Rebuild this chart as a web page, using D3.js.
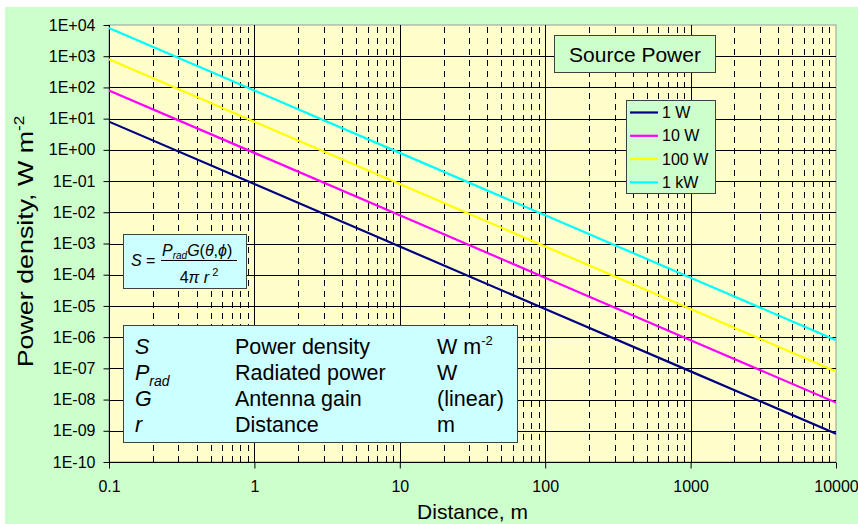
<!DOCTYPE html>
<html>
<head>
<meta charset="utf-8">
<script src="https://cdn.jsdelivr.net/npm/d3@7"></script>
<style>
  html, body { margin: 0; padding: 0; background: #ffffff; }
  svg { display: block; }
  text { font-family: "Liberation Sans", Arial, sans-serif; }
</style>
</head>
<body>
<svg id="chart" width="858" height="524"></svg>
<script>
// ---------------- data ----------------
const distances = [0.1, 1, 10, 100, 1000, 10000];
const seriesNames = ["1 W", "10 W", "100 W", "1 kW"];
const series1W   = [8, 0.08, 8e-4, 8e-6, 8e-8, 8e-10];
const series10W  = [80, 0.8, 8e-3, 8e-5, 8e-7, 8e-9];
const series100W = [800, 8, 8e-2, 8e-4, 8e-6, 8e-8];
const series1kW  = [8000, 80, 0.8, 8e-3, 8e-5, 8e-7];
const seriesColors = ["#000080", "#ff00ff", "#ffff00", "#00ffff"];
const xTickValues = [0.1, 1, 10, 100, 1000, 10000];
const xTickLabels = ["0.1", "1", "10", "100", "1000", "10000"];
const yTickValues = [1e-10, 1e-9, 1e-8, 1e-7, 1e-6, 1e-5, 1e-4, 1e-3, 1e-2, 1e-1, 1, 1e1, 1e2, 1e3, 1e4];
const yTickLabels = ["1E-10","1E-09","1E-08","1E-07","1E-06","1E-05","1E-04","1E-03","1E-02","1E-01","1E+00","1E+01","1E+02","1E+03","1E+04"];
const tableSymbols = ["S", "P", "G", "r"];
const tableSubs = ["", "rad", "", ""];
const tableNames = ["Power density", "Radiated power", "Antenna gain", "Distance"];
const tableUnits = ["W m", "W", "(linear)", "m"];
const tableUnitSups = ["-2", "", "", ""];

const allSeries = [series1W, series10W, series100W, series1kW];

// ---------------- layout ----------------
const svg = d3.select("#chart");
const plot = { left: 109, right: 836, top: 25, bottom: 462 };

svg.append("rect").attr("x", 0).attr("y", 0).attr("width", 858).attr("height", 524).attr("fill", "#ffffff");
svg.append("rect").attr("x", 5).attr("y", 7).attr("width", 853).attr("height", 517).attr("fill", "#ccffcc");

const x = d3.scaleLog().domain([0.1, 10000]).range([plot.left, plot.right]);
const y = d3.scaleLog().domain([1e-10, 1e4]).range([plot.bottom, plot.top]);

// plot area
svg.append("rect")
  .attr("x", plot.left).attr("y", plot.top)
  .attr("width", plot.right - plot.left).attr("height", plot.bottom - plot.top)
  .attr("fill", "#ffffcc").attr("stroke", "#999999").attr("stroke-width", 1);

const grid = svg.append("g");
// minor vertical dashed grid
const minorX = [];
for (let d = 0.1; d < 10000; d *= 10) {
  for (let k = 2; k <= 9; k++) minorX.push(d * k);
}
grid.selectAll("line.minx").data(minorX).enter().append("line")
  .attr("x1", d => Math.round(x(d)) + 0.5).attr("x2", d => Math.round(x(d)) + 0.5)
  .attr("y1", plot.top + 2).attr("y2", plot.bottom)
  .attr("stroke", "#000").attr("stroke-width", 1).attr("stroke-dasharray", "6,5");
// major vertical
grid.selectAll("line.majx").data(xTickValues.slice(1, -1)).enter().append("line")
  .attr("x1", d => Math.round(x(d)) + 0.5).attr("x2", d => Math.round(x(d)) + 0.5)
  .attr("y1", plot.top).attr("y2", plot.bottom)
  .attr("stroke", "#000").attr("stroke-width", 1);
// major horizontal
grid.selectAll("line.majy").data(yTickValues.slice(1, -1)).enter().append("line")
  .attr("x1", plot.left).attr("x2", plot.right)
  .attr("y1", d => Math.round(y(d)) + 0.5).attr("y2", d => Math.round(y(d)) + 0.5)
  .attr("stroke", "#000").attr("stroke-width", 1);

// axes
const yAxis = d3.axisLeft(y).tickValues(yTickValues).tickFormat((d, i) => yTickLabels[i]).tickSize(6).tickPadding(8);
const gy = svg.append("g").attr("transform", `translate(${plot.left + 0.5},0)`).call(yAxis);
gy.select(".domain").attr("stroke", "#000").attr("d", `M0,${plot.top}V${plot.bottom}`);
gy.selectAll(".tick line").attr("stroke", "#000");
gy.selectAll(".tick text").attr("font-size", 16).attr("fill", "#000").style("font-family", "Liberation Sans, Arial, sans-serif");

const xAxis = d3.axisBottom(x).tickValues(xTickValues).tickFormat((d, i) => xTickLabels[i]).tickSize(6).tickPadding(12);
const gx = svg.append("g").attr("transform", `translate(0,${plot.bottom + 0.5})`).call(xAxis);
gx.select(".domain").attr("stroke", "#000").attr("d", `M${plot.left},0H${plot.right}`);
gx.selectAll(".tick line").attr("stroke", "#000");
gx.selectAll(".tick text").attr("font-size", 16).attr("fill", "#000").style("font-family", "Liberation Sans, Arial, sans-serif");

// axis titles
svg.append("text").attr("x", (plot.left + plot.right) / 2).attr("y", 519)
  .attr("text-anchor", "middle").attr("font-size", 21).attr("fill", "#000").text("Distance, m");
const yl = svg.append("text").attr("transform", `translate(33,${(plot.top + plot.bottom) / 2 - 2}) rotate(-90) scale(1.22,1)`)
  .attr("text-anchor", "middle").attr("font-size", 22).attr("fill", "#000");
yl.append("tspan").text("Power density, W m");
yl.append("tspan").attr("font-size", 14).attr("dy", -9).text("-2");

// lines
const clip = svg.append("clipPath").attr("id", "pclip").append("rect")
  .attr("x", plot.left).attr("y", plot.top).attr("width", plot.right - plot.left).attr("height", plot.bottom - plot.top);
const line = d3.line().x(d => x(d[0])).y(d => y(d[1]));
const lg = svg.append("g").attr("clip-path", "url(#pclip)");
allSeries.forEach((s, i) => {
  lg.append("path").datum(distances.map((d, j) => [d, s[j]]))
    .attr("d", line).attr("fill", "none").attr("stroke", seriesColors[i]).attr("stroke-width", 2.2);
});

// Source Power title box
svg.append("rect").attr("x", 554.5).attr("y", 35.5).attr("width", 161).attr("height", 37)
  .attr("fill", "#ccffcc").attr("stroke", "#404040").attr("stroke-width", 1);
svg.append("text").attr("x", 635).attr("y", 61.5).attr("text-anchor", "middle")
  .attr("font-size", 21).attr("fill", "#000").text("Source Power");

// legend
svg.append("rect").attr("x", 626.5).attr("y", 100.5).attr("width", 89).attr("height", 93)
  .attr("fill", "#ccffcc").attr("stroke", "#404040").attr("stroke-width", 1);
seriesNames.forEach((n, i) => {
  const yy = 112.5 + i * 23.3;
  svg.append("line").attr("x1", 630).attr("x2", 658).attr("y1", yy).attr("y2", yy)
    .attr("stroke", seriesColors[i]).attr("stroke-width", 2.2);
  svg.append("text").attr("x", 662).attr("y", yy + 5.5).attr("font-size", 16).attr("fill", "#000").text(n);
});

// formula box
svg.append("rect").attr("x", 123.5).attr("y", 234.5).attr("width", 123).attr("height", 54)
  .attr("fill", "#ccffff").attr("stroke", "#404040").attr("stroke-width", 1);
const fS = svg.append("text").attr("x", 131).attr("y", 266).attr("font-size", 16).attr("fill", "#000");
fS.append("tspan").attr("font-style", "italic").text("S");
fS.append("tspan").text(" =");
svg.append("line").attr("x1", 161).attr("x2", 237).attr("y1", 260.5).attr("y2", 260.5).attr("stroke", "#000").attr("stroke-width", 1);
const fN = svg.append("text").attr("x", 162).attr("y", 256).attr("font-size", 16).attr("fill", "#000");
fN.append("tspan").attr("font-style", "italic").text("P");
fN.append("tspan").attr("font-style", "italic").attr("font-size", 10).attr("dy", 3).text("rad");
fN.append("tspan").attr("font-style", "italic").attr("dy", -3).text("G");
fN.append("tspan").text("(");
fN.append("tspan").attr("font-style", "italic").text("θ");
fN.append("tspan").text(",");
fN.append("tspan").attr("font-style", "italic").text("ϕ");
fN.append("tspan").text(")");
const fD = svg.append("text").attr("x", 199).attr("y", 283).attr("text-anchor", "middle").attr("font-size", 16).attr("fill", "#000");
fD.append("tspan").text("4");
fD.append("tspan").attr("font-style", "italic").text("π r");
fD.append("tspan").attr("font-size", 11).attr("dy", -7).text(" 2");

// symbols table
svg.append("rect").attr("x", 123.5).attr("y", 325.5).attr("width", 394).attr("height", 117)
  .attr("fill", "#ccffff").attr("stroke", "#404040").attr("stroke-width", 1);
tableSymbols.forEach((s, i) => {
  const by = 354 + i * 26;
  const t1 = svg.append("text").attr("x", 135).attr("y", by).attr("font-size", 21.5).attr("fill", "#000");
  t1.append("tspan").attr("font-style", "italic").text(s);
  if (tableSubs[i]) t1.append("tspan").attr("font-style", "italic").attr("font-size", 14).attr("dy", 6).text(tableSubs[i]);
  svg.append("text").attr("x", 235).attr("y", by).attr("font-size", 21.5).attr("fill", "#000").text(tableNames[i]);
  const t3 = svg.append("text").attr("x", 437).attr("y", by).attr("font-size", 21.5).attr("fill", "#000");
  t3.append("tspan").text(tableUnits[i]);
  if (tableUnitSups[i]) t3.append("tspan").attr("font-size", 13).attr("dy", -9).text(tableUnitSups[i]);
});
</script>
</body>
</html>
